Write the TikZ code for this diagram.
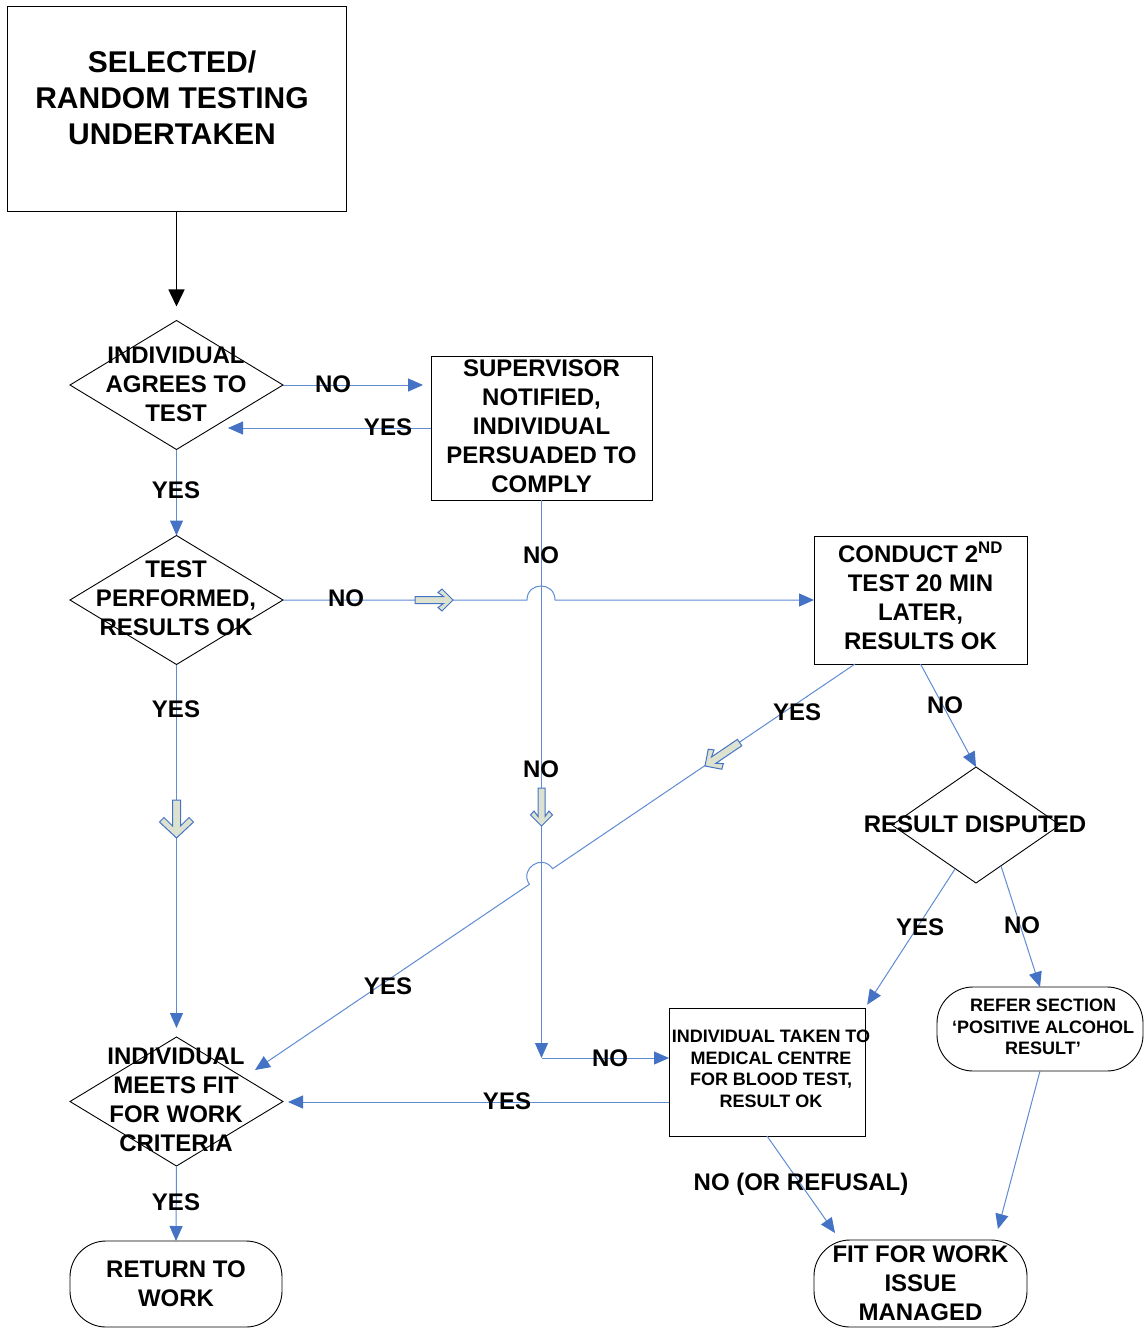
\documentclass[tikz,border=0pt]{standalone}
\usepackage{fontspec}
\setmainfont{Liberation Sans}
\usetikzlibrary{shapes.geometric,arrows.meta}
\definecolor{lineblue}{RGB}{95,140,210}
\definecolor{tipblue}{RGB}{68,114,196}
\definecolor{hollowfill}{RGB}{221,226,208}
\newcommand\fmain{\bfseries\fontsize{24pt}{29pt}\selectfont}
\newcommand\fbig{\bfseries\fontsize{30pt}{36pt}\selectfont}
\newcommand\fsmall{\bfseries\fontsize{18pt}{21.5pt}\selectfont}
\begin{document}
\begin{tikzpicture}[x=1pt,y=-1pt,
  rectbox/.style={draw=black, line width=1pt, rectangle, inner sep=0pt, outer sep=0pt, align=center, font=\fmain},
  diabox/.style={draw=black, line width=0.9pt, diamond, inner sep=0pt, outer sep=0pt, minimum width=213pt, minimum height=129pt},
  termbox/.style={draw=black, line width=0.9pt, rectangle, rounded corners=36pt, inner sep=0pt, outer sep=0pt, align=center, font=\fmain},
  txt/.style={inner sep=0pt, align=center, font=\fmain},
  lab/.style={inner sep=0pt, font=\fmain},
  conn/.style={draw=lineblue, line width=1pt, -{Triangle[length=15pt,width=13pt,color=tipblue]}},
  hollowstyle/.style={draw=tipblue, fill=hollowfill, line width=1pt, line join=miter},
]
\fill[white] (0,0) rectangle (1143,1329);
\useasboundingbox (0,0) rectangle (1143,1329);

% ---------- nodes ----------
\node[rectbox, minimum width=339pt, minimum height=205pt] (top) at (176.5,109.5) {};
\node[txt, font=\fbig] (toptext) at (172,98) {SELECTED/\\RANDOM TESTING\\UNDERTAKEN};

\node[diabox] (d1) at (176.5,385) {};
\node[txt] (d1t) at (176,384) {INDIVIDUAL\\AGREES TO\\TEST};

\node[rectbox, minimum width=221pt, minimum height=144pt] (sup) at (541.5,428) {};
\node[txt] (supt) at (541.5,426) {SUPERVISOR\\NOTIFIED,\\INDIVIDUAL\\PERSUADED TO\\COMPLY};

\node[diabox] (d2) at (176.5,600) {};
\node[txt] (d2t) at (176,598) {TEST\\PERFORMED,\\RESULTS OK};

\node[rectbox, minimum width=213pt, minimum height=128pt] (c2) at (920.5,600) {};
\node[txt] (c2t) at (920.5,596) {CONDUCT 2\textsuperscript{ND}\\TEST 20 MIN\\LATER,\\RESULTS OK};

\node[diabox, minimum width=168pt, minimum height=116pt] (dis) at (976,825) {};
\node[txt] (dist) at (975,824) {RESULT DISPUTED};

\node[rectbox, minimum width=196pt, minimum height=128pt] (med) at (767,1072) {};
\node[txt, font=\fsmall] (medt) at (771,1069) {INDIVIDUAL TAKEN TO\\MEDICAL CENTRE\\FOR BLOOD TEST,\\RESULT OK};

\node[termbox, minimum width=206pt, minimum height=84pt, font=\fsmall] (ref) at (1040,1029) {};
\node[txt, font=\fsmall] (reft) at (1043,1027) {REFER SECTION\\‘POSITIVE ALCOHOL\\RESULT’};

\node[diabox] (d4) at (176.5,1101.5) {};
\node[txt] (d4t) at (176,1100) {INDIVIDUAL\\MEETS FIT\\FOR WORK\\CRITERIA};

\node[termbox, minimum width=212pt, minimum height=86pt] (ret) at (176,1284) {RETURN TO\\WORK};
\node[termbox, minimum width=213pt, minimum height=87pt] (fit) at (920.5,1283.5) {FIT FOR WORK\\ISSUE\\MANAGED};

% ---------- coordinates ----------
\coordinate (d1y) at (228,428);
\coordinate (hop1a) at (527,600);
\coordinate (hop1b) at (555,600);
\coordinate (j) at (541.5,1058);
\coordinate (c2a) at (855,664);
\coordinate (hop2a) at (552.6,868.7);
\coordinate (hop2b) at (529.4,884.3);
\coordinate (d4in) at (255,1070);
\coordinate (disyes) at (955,869);
\coordinate (disno) at (1001,866);
\coordinate (medl) at (669,1102);
\coordinate (fitin) at (835,1233);
\coordinate (fitin2) at (998,1229);

% ---------- connectors ----------
\draw[black, line width=1.5pt, -{Triangle[length=17pt,width=16pt]}, shorten >=14pt] (top.south) -- (d1.north);

\draw[conn, shorten >=8pt] (d1.east) -- (sup.west |- d1.east);
\draw[conn] (sup.west) -- (d1y);
\draw[conn] (d1.south) -- (d2.north);
\draw[conn] (d2.east) -- (hop1a) .. controls (527,581.3) and (555,581.3) .. (hop1b) -- (c2.west);
\draw[conn] (sup.south) -- (j);
\draw[conn] (j) -- (j -| med.west);
\draw[conn] (c2a) -- (hop2a) .. controls (542.1,853.2) and (518.9,868.8) .. (hop2b) -- (d4in);
\draw[conn, shorten >=9pt] (d2.south) -- (d4.north);
\draw[conn] (d4.south) -- (ret.north);
\draw[conn] (c2.south) -- (dis.north);
\draw[conn, shorten >=4pt] (disyes) -- (med.north east);
\draw[conn] (disno) -- (ref.north);
\draw[conn, shorten >=5pt] (medl) -- (medl -| d4.east);
\draw[conn] (med.south) -- (fitin);
\draw[conn] (ref.south) -- (fitin2);

% ---------- hollow direction arrows ----------
\draw[hollowstyle, shift={(453,600)}] (0,0) -- (-11,-11) -- (-15,-7.5) -- (-9.5,-3.5) -- (-38,-3.5) -- (-38,3.5) -- (-9.5,3.5) -- (-15,7.5) -- (-11,11) -- cycle;
\draw[hollowstyle, shift={(541.5,826)}, rotate=-90] (0,0) -- (-11,-11) -- (-15,-7.5) -- (-9.5,-3.5) -- (-38,-3.5) -- (-38,3.5) -- (-9.5,3.5) -- (-15,7.5) -- (-11,11) -- cycle;
\draw[hollowstyle, shift={(705,766)}, rotate=214.1, scale=1.1] (0,0) -- (-11,-11) -- (-15,-7.5) -- (-9.5,-3.5) -- (-38,-3.5) -- (-38,3.5) -- (-9.5,3.5) -- (-15,7.5) -- (-11,11) -- cycle;
\draw[hollowstyle, shift={(176.5,838)}, rotate=-90] (0,0) -- (-16,-17) -- (-20.5,-12.5) -- (-12,-4) -- (-38,-4) -- (-38,4) -- (-12,4) -- (-20.5,12.5) -- (-16,17) -- cycle;

% ---------- connector labels ----------
\node[lab] (l1) at (333,384) {NO};
\node[lab] (l2) at (388,427) {YES};
\node[lab] (l3) at (176,490) {YES};
\node[lab] (l4) at (346,598) {NO};
\node[lab] (l5) at (541,555) {NO};
\node[lab] (l6) at (176,709) {YES};
\node[lab] (l7) at (797,712) {YES};
\node[lab] (l8) at (945,705) {NO};
\node[lab] (l9) at (541,769) {NO};
\node[lab] (l10) at (920,927) {YES};
\node[lab] (l11) at (1022,925) {NO};
\node[lab] (l12) at (388,986) {YES};
\node[lab] (l13) at (610,1058) {NO};
\node[lab] (l14) at (507,1101) {YES};
\node[lab] (l15) at (801,1184) {NO (OR REFUSAL)};
\node[lab] (l16) at (176,1202) {YES};
\end{tikzpicture}
\end{document}
